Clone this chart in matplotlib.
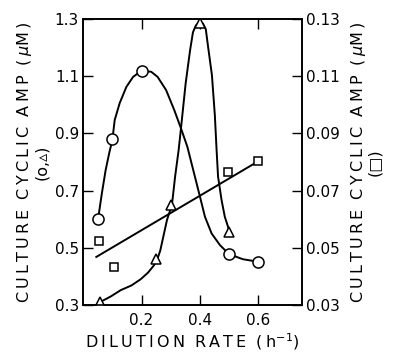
import numpy as np
import matplotlib.pyplot as plt

# measured points (dilution rate in h^-1)
circ_x = [0.05, 0.10, 0.20, 0.50, 0.60]
circ_y = [0.60, 0.88, 1.12, 0.48, 0.45]
tri_x = [0.058, 0.25, 0.30, 0.40, 0.50]
tri_y = [0.31, 0.46, 0.65, 1.285, 0.555]
sq_x = [0.054, 0.105, 0.495, 0.60]
sq_y = [0.0524, 0.0433, 0.0765, 0.0803]

# hand drawn fitted curves
circ_cx = [0.051, 0.064, 0.077, 0.09, 0.10, 0.108, 0.125, 0.148, 0.171, 0.199, 0.233,
           0.255, 0.284, 0.312, 0.335, 0.357, 0.377, 0.40, 0.417, 0.44, 0.468, 0.499,
           0.547, 0.60]
circ_cy = [0.60, 0.69, 0.772, 0.835, 0.877, 0.947, 1.006, 1.063, 1.098, 1.119, 1.116,
           1.098, 1.052, 0.982, 0.918, 0.853, 0.772, 0.679, 0.609, 0.55, 0.51, 0.478,
           0.46, 0.451]
tri_cx = [0.058, 0.095, 0.129, 0.165, 0.197, 0.222, 0.242, 0.254, 0.264, 0.287, 0.304,
          0.315, 0.327, 0.335, 0.351, 0.366, 0.376, 0.386, 0.397, 0.41, 0.42, 0.427,
          0.441, 0.451, 0.457, 0.462, 0.474, 0.485, 0.502]
tri_cy = [0.31, 0.33, 0.352, 0.368, 0.39, 0.413, 0.438, 0.46, 0.49, 0.597, 0.65,
          0.75, 0.842, 0.918, 1.075, 1.19, 1.254, 1.278, 1.288, 1.285, 1.265, 1.21,
          1.104, 0.964, 0.842, 0.749, 0.667, 0.609, 0.555]
fit_x = [0.045, 0.60]
fit_y = [0.0468, 0.0803]

plt.rcParams['font.family'] = 'DejaVu Sans'
fig = plt.figure(figsize=(3.96, 3.55), dpi=100)
ax = fig.add_axes([0.21, 0.141, 0.553, 0.805])
ax2 = ax.twinx()

ax.plot(circ_cx, circ_cy, color='black', lw=1.4)
ax.plot(tri_cx, tri_cy, color='black', lw=1.4)
ax.plot(circ_x, circ_y, 'o', ms=8, mfc='white', mec='black', mew=1.1, zorder=3)
ax.plot(tri_x, tri_y, '^', ms=7, mfc='white', mec='black', mew=1.1, zorder=3)
ax2.plot(fit_x, fit_y, color='black', lw=1.4)
ax2.plot(sq_x, sq_y, 's', ms=6, mfc='white', mec='black', mew=1.1, zorder=3)

ax.set_xlim(0, 0.75)
ax.set_ylim(0.3, 1.3)
ax2.set_ylim(0.03, 0.13)
ax.set_xticks([0.2, 0.4, 0.6])
ax.set_xticklabels(['0.2', '0.4', '0.6'])
ax.set_yticks([0.3, 0.5, 0.7, 0.9, 1.1, 1.3])
ax.set_yticklabels(['0.3', '0.5', '0.7', '0.9', '1.1', '1.3'])
ax2.set_yticks([0.03, 0.05, 0.07, 0.09, 0.11, 0.13])
ax2.set_yticklabels(['0.03', '0.05', '0.07', '0.09', '0.11', '0.13'])

ax.tick_params(axis='x', direction='in', top=True, length=7, width=1, labelsize=11, pad=6)
ax.tick_params(axis='y', direction='in', length=7, width=1, labelsize=11, pad=3)
ax2.tick_params(axis='y', direction='in', length=7, width=1, labelsize=11, pad=3)
for a in (ax, ax2):
    for s in a.spines.values():
        s.set_linewidth(1.2)

def spaced(t):
    return '\u2009'.join(t)

lab = spaced('CULTURE') + '  ' + spaced('CYCLIC') + '  ' + spaced('AMP') + '  (\u2009$\\mu$M\u2009)'
ax.set_ylabel(lab + '\n(o,\u25b5)', fontsize=11.5, labelpad=4, linespacing=1.0)
ax2.set_ylabel(lab + '\n(\u25a1)', fontsize=11.5, rotation=90, labelpad=6, linespacing=1.0)
ax.set_xlabel(spaced('DILUTION') + '  ' + spaced('RATE') + '  (\u2009h$^{-1}$)',
              fontsize=11.5, labelpad=2)

fig.savefig('out.png', dpi=100)
